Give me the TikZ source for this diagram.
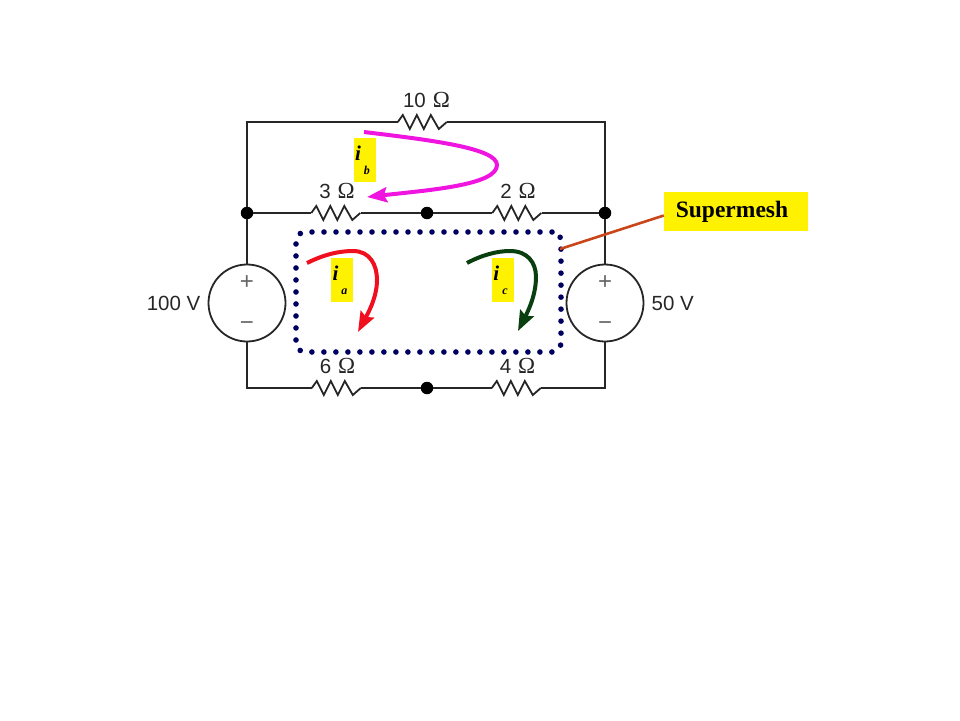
\documentclass[tikz,border=0pt]{standalone}
\usepackage{fontspec}
\setmainfont{Liberation Sans}
\newfontfamily\labelfont{Liberation Serif}
\usetikzlibrary{positioning}
\usetikzlibrary{arrows.meta}

\begin{document}
\begin{tikzpicture}
[
x=1pt, y=-1pt,
node distance=4pt and 6pt,
wire/.style={line width=1.8pt, draw=black!85},
res/.style={minimum width=49pt, minimum height=14pt, inner sep=0pt},
source/.style={circle, minimum size=77pt, inner sep=0pt, wire},
junction/.style={circle, fill=black, minimum size=12.5pt, inner sep=0pt},
value/.style={font=\fontsize{20.5}{22}\selectfont, text=black!85, inner sep=0pt},
sign/.style={font=\fontsize{24}{24}\selectfont, text=black!60, inner sep=0pt},
current/.style={line width=4pt, -{Stealth[length=20pt, width=15pt, inset=3pt]}},
ibox/.style={fill=yellow, minimum width=22pt, minimum height=44pt, inner sep=0pt, font=\labelfont\bfseries\itshape\fontsize{21}{21}\selectfont},
]
\definecolor{meshblue}{RGB}{0,0,96}
\definecolor{leader}{RGB}{200,70,25}
\definecolor{ibcol}{RGB}{240,20,225}
\definecolor{iacol}{RGB}{240,15,30}
\definecolor{iccol}{RGB}{10,64,16}

\useasboundingbox (0,0) rectangle (960,720);

% resistors
\foreach \n/\x/\y in {r10/422.5/122, r3/336/213, r2/517/213, r6/336.5/388, r4/516.5/388}
{
\node (\n) [res] at (\x,\y) {};
\draw [wire] (\n.west) -- ++(5,-7) -- ++(7,14) -- ++(7,-14) -- ++(7,14) -- ++(7,-14) -- ++(8,14) -- ++(8,-7);
}

\node (jl) [junction] at (247,213) {};
\node (jm) [junction] at (427,213) {};
\node (jr) [junction] at (605,213) {};
\node (jb) [junction] at (427,388) {};
\node (s100) [source] at (247,303) {};
\node (s50) [source] at (605,303) {};

% wires
\draw [wire] (r10.west) -| (jl);
\draw [wire] (r10.east) -| (jr);
\draw [wire] (jl) -- (r3.west);
\draw [wire] (r3.east) -- (jm);
\draw [wire] (jm) -- (r2.west);
\draw [wire] (r2.east) -- (jr);
\draw [wire] (jl) -- (s100);
\draw [wire] (jr) -- (s50);
\draw [wire] (s100) |- (r6.west);
\draw [wire] (s50) |- (r4.east);
\draw [wire] (r6.east) -- (jb);
\draw [wire] (jb) -- (r4.west);

% values
\node (v10) [value, above=7pt of r10, xshift=4pt] {10\hspace{7pt}{\labelfont\fontsize{23}{23}\selectfont\symbol{"03A9}}};
\foreach \n/\v in {r3/3, r2/2, r6/6, r4/4}
{
\node (v\v) [value, above=7pt of \n, xshift=1pt] {\v\hspace{7pt}{\labelfont\fontsize{23}{23}\selectfont\symbol{"03A9}}};
}
\node (v100) [value, left=7pt of s100] {100 V};
\node (v50) [value, right=7pt of s50] {50 V};
\foreach \n in {s100, s50}
{
\node [sign] at ([yshift=20pt]\n.center) {+};
\node [sign] at ([yshift=-23pt]\n.center) {\symbol{"2212}};
}

% supermesh
\node (mesh) [draw=meshblue, line width=5.6pt, line cap=round, dash pattern=on 0pt off 12pt, rounded corners=9pt, minimum width=265pt, minimum height=120pt, inner sep=0pt] at (428.5,292) {};
\node (super) [fill=yellow, minimum width=144pt, minimum height=39pt, inner sep=0pt, font=\labelfont\bfseries\fontsize{23.5}{24}\selectfont] at (736,211.5) {\raisebox{-2pt}{\hspace*{-8pt}Supermesh}};
\coordinate (tap) at (560,249);
\draw [leader, line width=2.6pt] (super.west) ++(0,4) -- (tap);

% mesh currents
\node (ib) [ibox] at (364.5,160) {\hspace*{-4pt}\raisebox{-4pt}{i}\hspace{3pt}\raisebox{-18pt}{\fontsize{12}{12}\selectfont b}};
\node (ia) [ibox] at (342,280) {\hspace*{-4pt}\raisebox{-4pt}{i}\hspace{3pt}\raisebox{-18pt}{\fontsize{12}{12}\selectfont a}};
\node (ic) [ibox] at (502.5,280) {\hspace*{-4pt}\raisebox{-4pt}{i}\hspace{3pt}\raisebox{-18pt}{\fontsize{12}{12}\selectfont c}};

\draw [current, ibcol] (364,132) .. controls (430,140) and (497,148) .. (497,165) .. controls (497,185) and (430,190) .. (367,197);
\draw [current, iacol] (307,263) .. controls (325,254) and (340,251) .. (353,251) .. controls (370,251) and (377,265) .. (377,280) .. controls (377,298) and (367,315) .. (358,332);
\draw [current, iccol] (467,263) .. controls (482,255) and (497,251) .. (510,251) .. controls (527,251) and (536,262) .. (536,277) .. controls (536,297) and (526,315) .. (518,331);
\end{tikzpicture}
\end{document}
